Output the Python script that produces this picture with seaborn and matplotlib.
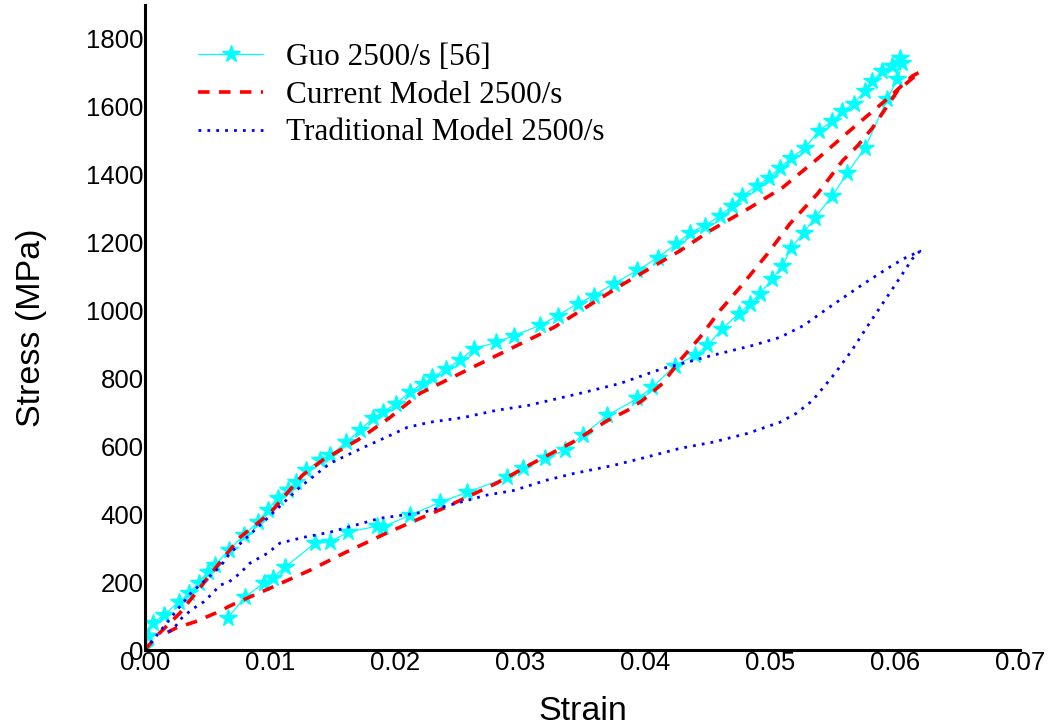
import matplotlib
matplotlib.use("Agg")
import matplotlib.pyplot as plt
import seaborn as sns
import pandas as pd

# ---------------- data ----------------
guo_strain = [0.0, 0.0002, 0.0006, 0.0015, 0.0027, 0.0035, 0.0043, 0.0050, 0.0056, 0.0067,
              0.0079, 0.0090, 0.0098, 0.0106, 0.0114, 0.0121, 0.0129, 0.0140, 0.0148, 0.0161,
              0.0172, 0.0182, 0.0190, 0.0201, 0.0212, 0.0222, 0.0230, 0.0241, 0.0252, 0.0263,
              0.0281, 0.0295, 0.0316, 0.0330, 0.0346, 0.0359, 0.0375, 0.0394, 0.0410, 0.0425,
              0.0436, 0.0448, 0.0460, 0.0470, 0.0478, 0.0490, 0.0499, 0.0508, 0.0517, 0.0528,
              0.0539, 0.0550, 0.0558, 0.0567, 0.0576, 0.0582, 0.0590, 0.0598, 0.0604,
              0.0606, 0.0602, 0.0594, 0.0576, 0.0562, 0.0550, 0.0536, 0.0527, 0.0517, 0.0510,
              0.0502, 0.0492, 0.0484, 0.0475, 0.0462, 0.0450, 0.0440, 0.0424, 0.0406, 0.0394,
              0.0370, 0.0350, 0.0336, 0.0320, 0.0302, 0.0290, 0.0258, 0.0236, 0.0212, 0.0190,
              0.0186, 0.0162, 0.0148, 0.0136, 0.0112, 0.0102, 0.0095, 0.0080, 0.0066]
guo_stress = [10, 40, 79, 103, 141, 167, 197, 229, 250, 294,
              338, 376, 412, 447, 471, 494, 529, 559, 573, 612,
              647, 682, 700, 726, 760, 785, 803, 829, 853, 888,
              906, 926, 956, 985, 1020, 1044, 1079, 1118, 1156, 1195,
              1229, 1250, 1279, 1309, 1338, 1368, 1391, 1420, 1450, 1479,
              1529, 1559, 1588, 1609, 1647, 1676, 1706, 1720, 1744,
              1730, 1682, 1624, 1479, 1406, 1338, 1274, 1229, 1185, 1132,
              1094, 1050, 1020, 991, 947, 897, 868, 838, 774, 741,
              691, 632, 588, 565, 535, 509, 465, 435, 397, 362,
              365, 347, 318, 315, 244, 212, 197, 156, 94]

cur_strain = [0.0, 0.0010, 0.0028, 0.0052, 0.0076, 0.0100, 0.0126, 0.0142, 0.0170, 0.0196,
              0.0220, 0.0265, 0.0327, 0.0383, 0.0428, 0.0452, 0.0484, 0.0510, 0.0538, 0.0562,
              0.0578, 0.0594, 0.0614, 0.0620,
              0.0602, 0.0582, 0.0570, 0.0558, 0.0538, 0.0516, 0.0498, 0.0476, 0.0460, 0.0444,
              0.0428, 0.0414, 0.0398, 0.0386, 0.0370, 0.0342, 0.0310, 0.0281, 0.0239, 0.0193,
              0.0159, 0.0132, 0.0100, 0.0072, 0.0056, 0.0040, 0.0025, 0.0018]
cur_stress = [0, 44, 109, 221, 332, 403, 515, 559, 618, 685,
              756, 838, 950, 1079, 1176, 1235, 1303, 1362, 1447, 1524,
              1574, 1624, 1691, 1703,
              1647, 1538, 1485, 1441, 1344, 1256, 1167, 1068, 1000, 921,
              853, 785, 735, 706, 676, 612, 550, 491, 418, 344,
              285, 235, 182, 137, 108, 83, 65, 52]

trad_strain = [0.0, 0.0036, 0.0060, 0.0068, 0.0103, 0.0124, 0.0148, 0.0175, 0.0196, 0.0210,
               0.0228, 0.0255, 0.0281, 0.0306, 0.0348, 0.0380, 0.0414, 0.0454, 0.0486, 0.0508,
               0.0527, 0.0546, 0.0575, 0.0594, 0.0607, 0.0620,
               0.0614, 0.0604, 0.0596, 0.0588, 0.0580, 0.0565, 0.0552, 0.0546, 0.0534, 0.0521,
               0.0508, 0.0482, 0.0454, 0.0428, 0.0401, 0.0375, 0.0343, 0.0321, 0.0295, 0.0273,
               0.0252, 0.0223, 0.0188, 0.0148, 0.0127, 0.0108, 0.0098, 0.0084, 0.0076, 0.0067,
               0.0060, 0.0054, 0.0047, 0.0039, 0.0030, 0.0025, 0.0022, 0.0018]
trad_stress = [0, 165, 245, 285, 406, 480, 550, 597, 632, 656,
               671, 685, 706, 720, 756, 785, 829, 868, 897, 921,
               956, 1006, 1079, 1124, 1153, 1175,
               1153, 1097, 1053, 1009, 965, 880, 815, 788, 735, 697,
               671, 638, 612, 594, 568, 544, 520, 500, 470, 456,
               435, 406, 388, 347, 332, 315, 285, 256, 226, 200,
               191, 167, 142, 123, 97, 73, 59, 52]

labels = ["Guo 2500/s [56]", "Current Model 2500/s", "Traditional Model 2500/s"]
x_ticks = [0.00, 0.01, 0.02, 0.03, 0.04, 0.05, 0.06, 0.07]
y_ticks = [0, 200, 400, 600, 800, 1000, 1200, 1400, 1600, 1800]

# ---------------- plot ----------------
sns.set_style("white")
plt.rcParams["font.family"] = ["Liberation Sans", "DejaVu Sans"]
plt.rcParams["text.color"] = "black"
plt.rcParams["axes.labelcolor"] = "black"

fig = plt.figure(figsize=(10.51, 7.26), dpi=100)
ax = fig.add_axes([145 / 1051, 1 - 650 / 726, (1020 - 145) / 1051, (650 - 5) / 726])

df_guo = pd.DataFrame({"strain": guo_strain, "stress": guo_stress})
df_cur = pd.DataFrame({"strain": cur_strain, "stress": cur_stress})
df_trad = pd.DataFrame({"strain": trad_strain, "stress": trad_stress})

sns.lineplot(data=df_guo, x="strain", y="stress", sort=False, estimator=None, ax=ax,
             color="#00FFFF", linewidth=0.9, marker="*", markersize=13,
             markeredgecolor="#00FFFF", markeredgewidth=1, label=labels[0])
sns.lineplot(data=df_cur, x="strain", y="stress", sort=False, estimator=None, ax=ax,
             color="#FF0000", linewidth=2.6, linestyle=(0, (3.2, 2.6)), label=labels[1])
sns.lineplot(data=df_trad, x="strain", y="stress", sort=False, estimator=None, ax=ax,
             color="#0000FF", linewidth=2.0, linestyle=(0, (1.0, 2.2)), label=labels[2])

ax.set_xlim(0, 0.07)
ax.set_ylim(0, 1900)
ax.set_xticks(x_ticks)
ax.set_xticklabels([f"{v:.2f}" for v in x_ticks])
ax.set_yticks(y_ticks)
ax.set_yticklabels([str(v) for v in y_ticks])
ax.tick_params(axis="both", length=0, labelsize=18.5, colors="black", pad=1)

for s in ["top", "right"]:
    ax.spines[s].set_visible(False)
for s in ["left", "bottom"]:
    ax.spines[s].set_color("black")
    ax.spines[s].set_linewidth(2.2)

ax.set_xlabel("Strain", fontsize=24.5, labelpad=15, color="black")
ax.set_ylabel("Stress (MPa)", fontsize=24.5, labelpad=28, color="black")

leg = ax.legend(loc="upper left", bbox_to_anchor=(198 / 1051, 1 - 43 / 726),
                bbox_transform=fig.transFigure, frameon=False, borderpad=0,
                borderaxespad=0, handlelength=2.08, handletextpad=0.74,
                labelspacing=0.28, prop={"family": "Liberation Serif", "size": 22.5})
for t in leg.get_texts():
    t.set_color("black")

fig.savefig("out.png", dpi=100)
